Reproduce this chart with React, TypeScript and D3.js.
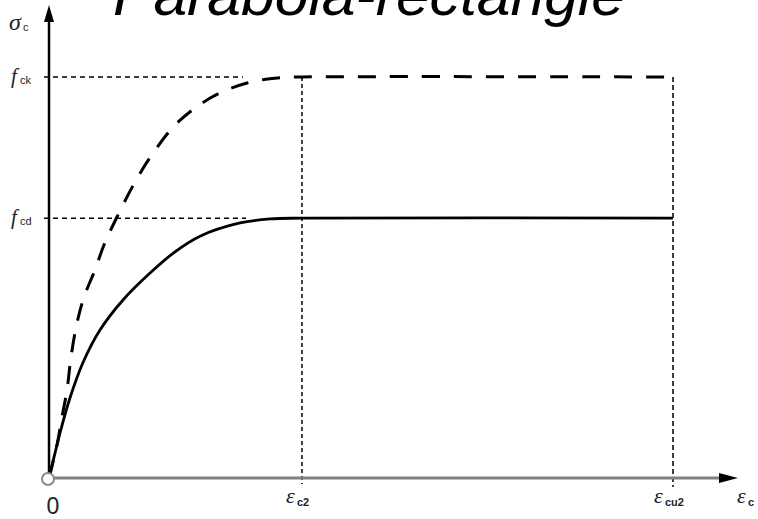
import React from "react";
import * as d3 from "d3";

// Normalised strain (eps / eps_cu2) and stress (sigma / f_ck)
const epsC2 = 0.4054;
const epsCu2 = 1.0;
const fck = 1.0;
const fcd = 0.648;

// Characteristic curve (dashed)
const charEps = [0, 0.0128, 0.0208, 0.0288, 0.0353, 0.0449, 0.0561, 0.0737, 0.0881, 0.109, 0.1378, 0.1667, 0.2051, 0.2612, 0.3173, 0.3702, 0.4054, 1.0];
const charSig = [0, 0.082, 0.152, 0.219, 0.302, 0.387, 0.451, 0.519, 0.581, 0.651, 0.738, 0.81, 0.885, 0.95, 0.985, 0.998, 1.0, 1.0];

// Design curve (solid)
const designEps = [0, 0.0096, 0.0186, 0.0337, 0.0545, 0.0817, 0.1186, 0.1619, 0.2019, 0.242, 0.3061, 0.3542, 0.4054, 1.0];
const designSig = [0, 0.062, 0.118, 0.2, 0.288, 0.369, 0.444, 0.511, 0.564, 0.603, 0.636, 0.646, 0.648, 0.648];

const W = 758;
const H = 519;

export default function App() {
  const x = d3.scaleLinear().domain([0, 1]).range([49, 673]);
  const y = d3.scaleLinear().domain([0, 1]).range([478, 77]);

  const smooth = d3
    .line<[number, number]>()
    .x((d) => x(d[0]))
    .y((d) => y(d[1]))
    .curve(d3.curveCatmullRom.alpha(0.5));

  const charPts = charEps.map((e, i) => [e, charSig[i]] as [number, number]);
  const designPts = designEps.map((e, i) => [e, designSig[i]] as [number, number]);

  const x0 = x(0);
  const y0 = y(0);
  const xc2 = x(epsC2);
  const xcu2 = x(epsCu2);
  const yck = y(fck);
  const ycd = y(fcd);

  const serif = "'Liberation Serif', 'DejaVu Serif', serif";
  const sans = "'Liberation Sans', Arial, sans-serif";

  return (
    <svg
      width={W}
      height={H}
      style={{ position: "absolute", left: 0, top: 0, background: "#fff" }}
    >
      {/* title */}
      <text
        x={113}
        y={15}
        fontFamily={sans}
        fontStyle="italic"
        fontSize={58}
        textLength={512}
        lengthAdjust="spacingAndGlyphs"
        fill="#000"
      >
        Parabola-rectangle
      </text>

      {/* guide lines */}
      <g stroke="#000" strokeWidth={1.5} fill="none">
        <line x1={44} y1={yck} x2={243} y2={yck} strokeDasharray="5,4" />
        <line x1={44} y1={ycd} x2={246} y2={ycd} strokeDasharray="5,4" />
        <line x1={xc2} y1={yck} x2={xc2} y2={y0 + 6} strokeDasharray="4,3" />
        <line x1={xcu2} y1={yck} x2={xcu2} y2={y0 + 9} strokeDasharray="5,3" />
      </g>

      {/* x axis */}
      <line x1={x0} y1={y0} x2={722} y2={y0} stroke="#808080" strokeWidth={3} />
      <path d={`M738,${y0} L719,${y0 - 5} L719,${y0 + 5} Z`} fill="#000" />

      {/* y axis */}
      <line x1={x0} y1={y0} x2={x0} y2={20} stroke="#000" strokeWidth={2.5} />
      <path d={`M${x0},5 L${x0 - 5},22 L${x0 + 5},22 Z`} fill="#000" />

      {/* curves */}
      <path
        d={smooth(charPts) ?? ""}
        fill="none"
        stroke="#000"
        strokeWidth={3}
        strokeDasharray="18,14"
      />
      <path d={smooth(designPts) ?? ""} fill="none" stroke="#000" strokeWidth={2.8} />

      {/* origin */}
      <circle cx={x0 - 1} cy={y0 + 1} r={6} fill="#fff" stroke="#8a8a8a" strokeWidth={2} />

      {/* axis labels */}
      <text x={9} y={30} fontFamily={serif} fontStyle="italic" fontSize={24} fill="#222">
        σ
      </text>
      <text x={23} y={31} fontFamily={sans} fontSize={11} fill="#222">
        c
      </text>

      <text x={11} y={yck + 6} fontFamily={serif} fontStyle="italic" fontSize={21} fill="#222">
        f
      </text>
      <text x={20} y={yck + 7} fontFamily={sans} fontSize={11} fill="#222">
        ck
      </text>

      <text x={11} y={ycd + 6} fontFamily={serif} fontStyle="italic" fontSize={21} fill="#222">
        f
      </text>
      <text x={20} y={ycd + 7} fontFamily={sans} fontSize={11} fill="#222">
        cd
      </text>

      <text x={53} y={514} textAnchor="middle" fontFamily={sans} fontSize={23} fill="#222">
        0
      </text>

      <text x={286} y={503} fontFamily={serif} fontStyle="italic" fontSize={22} fill="#222">
        ε
      </text>
      <text x={297} y={506} fontFamily={sans} fontWeight="bold" fontSize={11} fill="#222">
        c2
      </text>

      <text x={654} y={503} fontFamily={serif} fontStyle="italic" fontSize={22} fill="#222">
        ε
      </text>
      <text x={665} y={506} fontFamily={sans} fontWeight="bold" fontSize={11} fill="#222">
        cu2
      </text>

      <text x={737} y={503} fontFamily={serif} fontStyle="italic" fontSize={22} fill="#222">
        ε
      </text>
      <text x={748} y={506} fontFamily={sans} fontWeight="bold" fontSize={11} fill="#222">
        c
      </text>
    </svg>
  );
}
